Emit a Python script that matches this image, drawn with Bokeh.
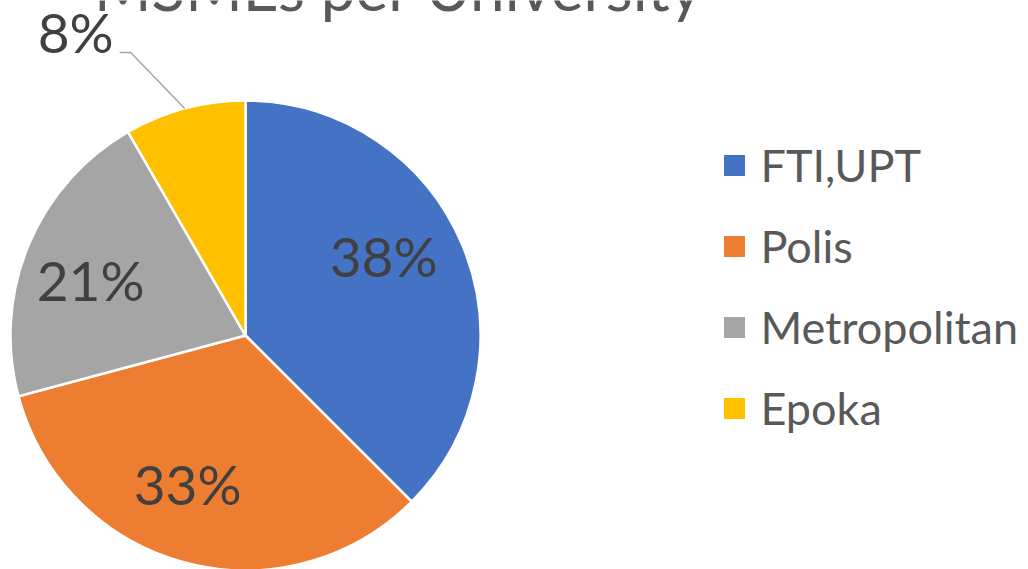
import math
from bokeh.plotting import figure
from bokeh.models import Range1d, ColumnDataSource
from bokeh.core.properties import value
from bokeh.embed import file_html
from bokeh.resources import INLINE

# ---- data ----
title_text = "MSMEs per University"
categories = ["FTI,UPT", "Polis", "Metropolitan", "Epoka"]
counts = [9, 8, 5, 2]
colors = ["#4472C4", "#ED7D31", "#A5A5A5", "#FFC000"]

W, H = 1028, 569
FONT = "Lato"

p = figure(width=W, height=H, output_backend="svg", toolbar_location=None,
           x_range=Range1d(0, W), y_range=Range1d(0, H), min_border=0,
           background_fill_color="white", border_fill_color="white")
p.axis.visible = False
p.grid.visible = False
p.outline_line_color = None

cx, cy, r = 245, H - 335, 235
total = sum(counts)
fracs = [c / total for c in counts]
starts, ends, mids = [], [], []
cum = 0.0
for f in fracs:
    starts.append(math.pi / 2 - 2 * math.pi * cum)
    ends.append(math.pi / 2 - 2 * math.pi * (cum + f))
    mids.append(math.pi / 2 - 2 * math.pi * (cum + f / 2))
    cum += f
pct = [f"{round(f * 100)}%" for f in fracs]

src = ColumnDataSource(dict(start=starts, end=ends, color=colors))
p.wedge(x=cx, y=cy, radius=r, start_angle="start", end_angle="end",
        direction="clock", fill_color="color", line_color="white",
        line_width=2.5, source=src)

# inside labels (placement tweaks: radius factor and angle shift in degrees)
lab_factor = [0.678, 0.678, 0.70]
lab_shift = [7.4, -6.3, 2.8]
lx, ly, lt = [], [], []
for i in range(3):
    a = mids[i] + math.radians(lab_shift[i])
    lx.append(cx + lab_factor[i] * r * math.cos(a))
    ly.append(cy + lab_factor[i] * r * math.sin(a))
    lt.append(pct[i])
p.text(x=lx, y=ly, text=lt, text_font=value(FONT), text_font_size="55px",
       text_color="#404040", text_align="center", text_baseline="middle")

# outside label for the small slice with leader line
m = mids[3]
ex, ey = cx + r * math.cos(m), cy + r * math.sin(m)
kx, ky = ex - 54, ey + 56
hx = kx - 11
p.line(x=[ex, kx, hx], y=[ey, ky, ky], line_color="#A6A6A6", line_width=1.5)
p.text(x=[hx - 6], y=[ky + 21], text=[pct[3]], text_font=value(FONT),
       text_font_size="55px", text_color="#404040", text_align="right",
       text_baseline="middle")

# title (cropped at top, as in the source)
p.text(x=[398], y=[H + 14], text=[title_text], text_font=value(FONT),
       text_font_size="62px", text_color="#595959", text_align="center",
       text_baseline="alphabetic")

# legend
leg_y = [H - (165 + 81 * i) for i in range(len(categories))]
p.rect(x=[734] * len(categories), y=leg_y, width=21, height=21,
       fill_color=colors, line_color=None)
p.text(x=[760] * len(categories), y=[v + 1 for v in leg_y], text=categories,
       text_font=value(FONT), text_font_size="45px", text_color="#595959",
       text_align="left", text_baseline="middle")

open("out.html", "w").write(file_html(p, INLINE))
